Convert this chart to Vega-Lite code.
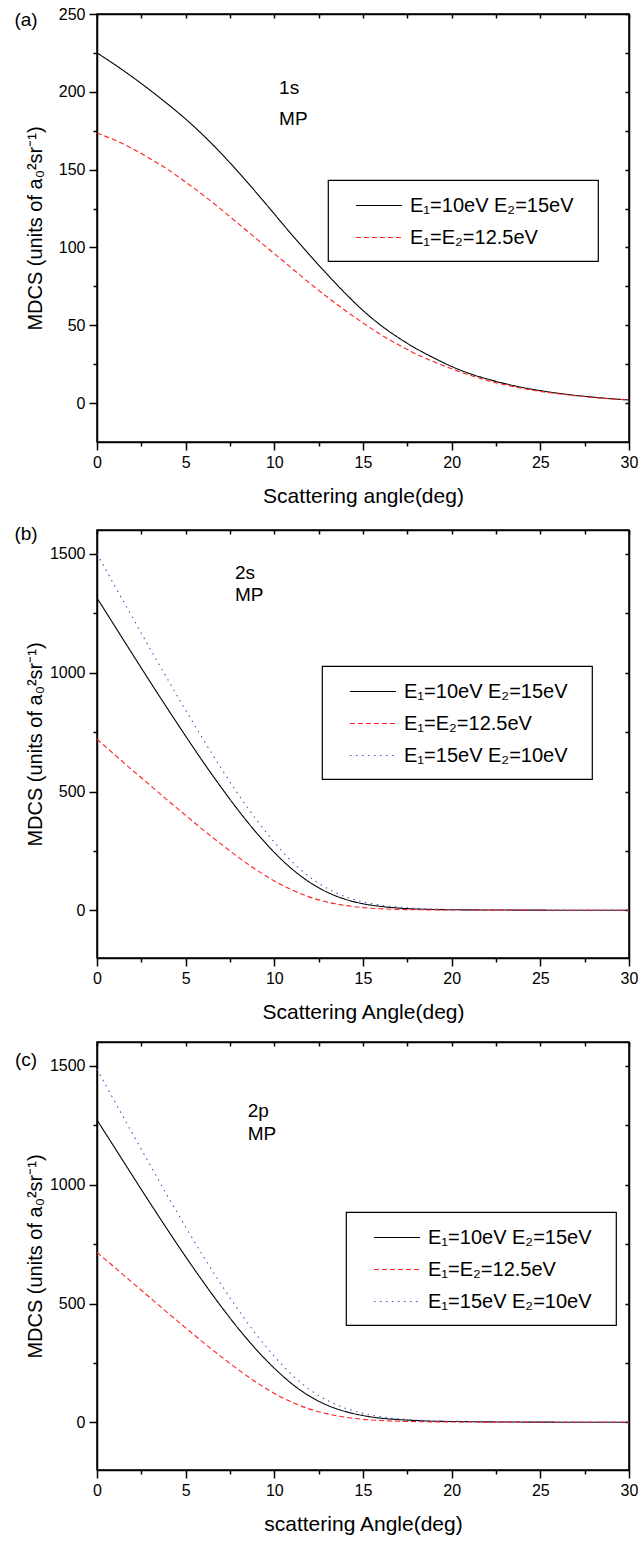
{
"$schema": "https://vega.github.io/schema/vega-lite/v6.json",
"padding": {"top": 5, "left": 13, "right": 5, "bottom": 0},
"spacing": 17,
"datasets": {
"a": [
{"angle":0,"mdcs":225,"series":"E₁=10eV E₂=15eV"},{"angle":1,"mdcs":217.5,"series":"E₁=10eV E₂=15eV"},{"angle":2,"mdcs":209.5,"series":"E₁=10eV E₂=15eV"},{"angle":3,"mdcs":201,"series":"E₁=10eV E₂=15eV"},{"angle":4,"mdcs":192,"series":"E₁=10eV E₂=15eV"},{"angle":5,"mdcs":182.5,"series":"E₁=10eV E₂=15eV"},{"angle":6,"mdcs":172,"series":"E₁=10eV E₂=15eV"},{"angle":7,"mdcs":160.5,"series":"E₁=10eV E₂=15eV"},{"angle":8,"mdcs":148,"series":"E₁=10eV E₂=15eV"},{"angle":9,"mdcs":135,"series":"E₁=10eV E₂=15eV"},{"angle":10,"mdcs":121.5,"series":"E₁=10eV E₂=15eV"},{"angle":11,"mdcs":108,"series":"E₁=10eV E₂=15eV"},{"angle":12,"mdcs":95,"series":"E₁=10eV E₂=15eV"},{"angle":13,"mdcs":82.5,"series":"E₁=10eV E₂=15eV"},{"angle":14,"mdcs":70.5,"series":"E₁=10eV E₂=15eV"},{"angle":15,"mdcs":59.5,"series":"E₁=10eV E₂=15eV"},{"angle":16,"mdcs":50,"series":"E₁=10eV E₂=15eV"},{"angle":17,"mdcs":42,"series":"E₁=10eV E₂=15eV"},{"angle":18,"mdcs":35,"series":"E₁=10eV E₂=15eV"},{"angle":19,"mdcs":29,"series":"E₁=10eV E₂=15eV"},{"angle":20,"mdcs":23.5,"series":"E₁=10eV E₂=15eV"},{"angle":21,"mdcs":19,"series":"E₁=10eV E₂=15eV"},{"angle":22,"mdcs":15.5,"series":"E₁=10eV E₂=15eV"},{"angle":23,"mdcs":12.5,"series":"E₁=10eV E₂=15eV"},{"angle":24,"mdcs":10,"series":"E₁=10eV E₂=15eV"},{"angle":25,"mdcs":8,"series":"E₁=10eV E₂=15eV"},{"angle":26,"mdcs":6.3,"series":"E₁=10eV E₂=15eV"},{"angle":27,"mdcs":4.9,"series":"E₁=10eV E₂=15eV"},{"angle":28,"mdcs":3.8,"series":"E₁=10eV E₂=15eV"},{"angle":29,"mdcs":2.8,"series":"E₁=10eV E₂=15eV"},{"angle":30,"mdcs":2,"series":"E₁=10eV E₂=15eV"},
{"angle":0,"mdcs":173.5,"series":"E₁=E₂=12.5eV"},{"angle":1,"mdcs":169,"series":"E₁=E₂=12.5eV"},{"angle":2,"mdcs":163.5,"series":"E₁=E₂=12.5eV"},{"angle":3,"mdcs":157,"series":"E₁=E₂=12.5eV"},{"angle":4,"mdcs":150,"series":"E₁=E₂=12.5eV"},{"angle":5,"mdcs":142,"series":"E₁=E₂=12.5eV"},{"angle":6,"mdcs":133.5,"series":"E₁=E₂=12.5eV"},{"angle":7,"mdcs":124.5,"series":"E₁=E₂=12.5eV"},{"angle":8,"mdcs":115,"series":"E₁=E₂=12.5eV"},{"angle":9,"mdcs":105.5,"series":"E₁=E₂=12.5eV"},{"angle":10,"mdcs":96,"series":"E₁=E₂=12.5eV"},{"angle":11,"mdcs":86.5,"series":"E₁=E₂=12.5eV"},{"angle":12,"mdcs":77,"series":"E₁=E₂=12.5eV"},{"angle":13,"mdcs":68,"series":"E₁=E₂=12.5eV"},{"angle":14,"mdcs":59.5,"series":"E₁=E₂=12.5eV"},{"angle":15,"mdcs":51.5,"series":"E₁=E₂=12.5eV"},{"angle":16,"mdcs":44,"series":"E₁=E₂=12.5eV"},{"angle":17,"mdcs":37.5,"series":"E₁=E₂=12.5eV"},{"angle":18,"mdcs":31.5,"series":"E₁=E₂=12.5eV"},{"angle":19,"mdcs":26.5,"series":"E₁=E₂=12.5eV"},{"angle":20,"mdcs":22,"series":"E₁=E₂=12.5eV"},{"angle":21,"mdcs":18,"series":"E₁=E₂=12.5eV"},{"angle":22,"mdcs":14.5,"series":"E₁=E₂=12.5eV"},{"angle":23,"mdcs":11.8,"series":"E₁=E₂=12.5eV"},{"angle":24,"mdcs":9.5,"series":"E₁=E₂=12.5eV"},{"angle":25,"mdcs":7.5,"series":"E₁=E₂=12.5eV"},{"angle":26,"mdcs":6,"series":"E₁=E₂=12.5eV"},{"angle":27,"mdcs":4.7,"series":"E₁=E₂=12.5eV"},{"angle":28,"mdcs":3.6,"series":"E₁=E₂=12.5eV"},{"angle":29,"mdcs":2.7,"series":"E₁=E₂=12.5eV"},{"angle":30,"mdcs":2,"series":"E₁=E₂=12.5eV"}
],
"b": [
{"angle":0,"mdcs":1314,"series":"E₁=10eV E₂=15eV"},{"angle":1,"mdcs":1196,"series":"E₁=10eV E₂=15eV"},{"angle":2,"mdcs":1078,"series":"E₁=10eV E₂=15eV"},{"angle":3,"mdcs":961,"series":"E₁=10eV E₂=15eV"},{"angle":4,"mdcs":846,"series":"E₁=10eV E₂=15eV"},{"angle":5,"mdcs":733,"series":"E₁=10eV E₂=15eV"},{"angle":6,"mdcs":623,"series":"E₁=10eV E₂=15eV"},{"angle":7,"mdcs":518,"series":"E₁=10eV E₂=15eV"},{"angle":8,"mdcs":418,"series":"E₁=10eV E₂=15eV"},{"angle":9,"mdcs":326,"series":"E₁=10eV E₂=15eV"},{"angle":10,"mdcs":244,"series":"E₁=10eV E₂=15eV"},{"angle":11,"mdcs":174,"series":"E₁=10eV E₂=15eV"},{"angle":12,"mdcs":118,"series":"E₁=10eV E₂=15eV"},{"angle":13,"mdcs":76,"series":"E₁=10eV E₂=15eV"},{"angle":14,"mdcs":47,"series":"E₁=10eV E₂=15eV"},{"angle":15,"mdcs":28,"series":"E₁=10eV E₂=15eV"},{"angle":16,"mdcs":17,"series":"E₁=10eV E₂=15eV"},{"angle":17,"mdcs":10,"series":"E₁=10eV E₂=15eV"},{"angle":18,"mdcs":6,"series":"E₁=10eV E₂=15eV"},{"angle":19,"mdcs":4,"series":"E₁=10eV E₂=15eV"},{"angle":20,"mdcs":3,"series":"E₁=10eV E₂=15eV"},{"angle":22,"mdcs":2,"series":"E₁=10eV E₂=15eV"},{"angle":25,"mdcs":1.2,"series":"E₁=10eV E₂=15eV"},{"angle":30,"mdcs":0.6,"series":"E₁=10eV E₂=15eV"},
{"angle":0,"mdcs":720,"series":"E₁=E₂=12.5eV"},{"angle":1,"mdcs":655,"series":"E₁=E₂=12.5eV"},{"angle":2,"mdcs":590,"series":"E₁=E₂=12.5eV"},{"angle":3,"mdcs":526,"series":"E₁=E₂=12.5eV"},{"angle":4,"mdcs":462,"series":"E₁=E₂=12.5eV"},{"angle":5,"mdcs":400,"series":"E₁=E₂=12.5eV"},{"angle":6,"mdcs":338,"series":"E₁=E₂=12.5eV"},{"angle":7,"mdcs":279,"series":"E₁=E₂=12.5eV"},{"angle":8,"mdcs":222,"series":"E₁=E₂=12.5eV"},{"angle":9,"mdcs":170,"series":"E₁=E₂=12.5eV"},{"angle":10,"mdcs":124,"series":"E₁=E₂=12.5eV"},{"angle":11,"mdcs":86,"series":"E₁=E₂=12.5eV"},{"angle":12,"mdcs":56,"series":"E₁=E₂=12.5eV"},{"angle":13,"mdcs":35,"series":"E₁=E₂=12.5eV"},{"angle":14,"mdcs":21,"series":"E₁=E₂=12.5eV"},{"angle":15,"mdcs":12,"series":"E₁=E₂=12.5eV"},{"angle":16,"mdcs":7,"series":"E₁=E₂=12.5eV"},{"angle":17,"mdcs":4.5,"series":"E₁=E₂=12.5eV"},{"angle":18,"mdcs":3,"series":"E₁=E₂=12.5eV"},{"angle":20,"mdcs":2,"series":"E₁=E₂=12.5eV"},{"angle":25,"mdcs":1,"series":"E₁=E₂=12.5eV"},{"angle":30,"mdcs":0.5,"series":"E₁=E₂=12.5eV"},
{"angle":0,"mdcs":1500,"series":"E₁=15eV E₂=10eV"},{"angle":1,"mdcs":1365,"series":"E₁=15eV E₂=10eV"},{"angle":2,"mdcs":1232,"series":"E₁=15eV E₂=10eV"},{"angle":3,"mdcs":1100,"series":"E₁=15eV E₂=10eV"},{"angle":4,"mdcs":970,"series":"E₁=15eV E₂=10eV"},{"angle":5,"mdcs":842,"series":"E₁=15eV E₂=10eV"},{"angle":6,"mdcs":718,"series":"E₁=15eV E₂=10eV"},{"angle":7,"mdcs":598,"series":"E₁=15eV E₂=10eV"},{"angle":8,"mdcs":485,"series":"E₁=15eV E₂=10eV"},{"angle":9,"mdcs":380,"series":"E₁=15eV E₂=10eV"},{"angle":10,"mdcs":287,"series":"E₁=15eV E₂=10eV"},{"angle":11,"mdcs":205,"series":"E₁=15eV E₂=10eV"},{"angle":12,"mdcs":140,"series":"E₁=15eV E₂=10eV"},{"angle":13,"mdcs":92,"series":"E₁=15eV E₂=10eV"},{"angle":14,"mdcs":58,"series":"E₁=15eV E₂=10eV"},{"angle":15,"mdcs":36,"series":"E₁=15eV E₂=10eV"},{"angle":16,"mdcs":22,"series":"E₁=15eV E₂=10eV"},{"angle":17,"mdcs":14,"series":"E₁=15eV E₂=10eV"},{"angle":18,"mdcs":9,"series":"E₁=15eV E₂=10eV"},{"angle":19,"mdcs":6,"series":"E₁=15eV E₂=10eV"},{"angle":20,"mdcs":4,"series":"E₁=15eV E₂=10eV"},{"angle":22,"mdcs":2.5,"series":"E₁=15eV E₂=10eV"},{"angle":25,"mdcs":1.4,"series":"E₁=15eV E₂=10eV"},{"angle":30,"mdcs":0.7,"series":"E₁=15eV E₂=10eV"}
],
"c": [
{"angle":0,"mdcs":1272,"series":"E₁=10eV E₂=15eV"},{"angle":1,"mdcs":1155,"series":"E₁=10eV E₂=15eV"},{"angle":2,"mdcs":1038,"series":"E₁=10eV E₂=15eV"},{"angle":3,"mdcs":922,"series":"E₁=10eV E₂=15eV"},{"angle":4,"mdcs":808,"series":"E₁=10eV E₂=15eV"},{"angle":5,"mdcs":697,"series":"E₁=10eV E₂=15eV"},{"angle":6,"mdcs":590,"series":"E₁=10eV E₂=15eV"},{"angle":7,"mdcs":488,"series":"E₁=10eV E₂=15eV"},{"angle":8,"mdcs":392,"series":"E₁=10eV E₂=15eV"},{"angle":9,"mdcs":305,"series":"E₁=10eV E₂=15eV"},{"angle":10,"mdcs":228,"series":"E₁=10eV E₂=15eV"},{"angle":11,"mdcs":162,"series":"E₁=10eV E₂=15eV"},{"angle":12,"mdcs":110,"series":"E₁=10eV E₂=15eV"},{"angle":13,"mdcs":72,"series":"E₁=10eV E₂=15eV"},{"angle":14,"mdcs":46,"series":"E₁=10eV E₂=15eV"},{"angle":15,"mdcs":29,"series":"E₁=10eV E₂=15eV"},{"angle":16,"mdcs":18,"series":"E₁=10eV E₂=15eV"},{"angle":17,"mdcs":12,"series":"E₁=10eV E₂=15eV"},{"angle":18,"mdcs":8,"series":"E₁=10eV E₂=15eV"},{"angle":19,"mdcs":5,"series":"E₁=10eV E₂=15eV"},{"angle":20,"mdcs":4,"series":"E₁=10eV E₂=15eV"},{"angle":22,"mdcs":2.4,"series":"E₁=10eV E₂=15eV"},{"angle":25,"mdcs":1.3,"series":"E₁=10eV E₂=15eV"},{"angle":30,"mdcs":0.7,"series":"E₁=10eV E₂=15eV"},
{"angle":0,"mdcs":715,"series":"E₁=E₂=12.5eV"},{"angle":1,"mdcs":652,"series":"E₁=E₂=12.5eV"},{"angle":2,"mdcs":588,"series":"E₁=E₂=12.5eV"},{"angle":3,"mdcs":524,"series":"E₁=E₂=12.5eV"},{"angle":4,"mdcs":460,"series":"E₁=E₂=12.5eV"},{"angle":5,"mdcs":398,"series":"E₁=E₂=12.5eV"},{"angle":6,"mdcs":336,"series":"E₁=E₂=12.5eV"},{"angle":7,"mdcs":277,"series":"E₁=E₂=12.5eV"},{"angle":8,"mdcs":220,"series":"E₁=E₂=12.5eV"},{"angle":9,"mdcs":168,"series":"E₁=E₂=12.5eV"},{"angle":10,"mdcs":122,"series":"E₁=E₂=12.5eV"},{"angle":11,"mdcs":85,"series":"E₁=E₂=12.5eV"},{"angle":12,"mdcs":56,"series":"E₁=E₂=12.5eV"},{"angle":13,"mdcs":36,"series":"E₁=E₂=12.5eV"},{"angle":14,"mdcs":22,"series":"E₁=E₂=12.5eV"},{"angle":15,"mdcs":13,"series":"E₁=E₂=12.5eV"},{"angle":16,"mdcs":8,"series":"E₁=E₂=12.5eV"},{"angle":17,"mdcs":5,"series":"E₁=E₂=12.5eV"},{"angle":18,"mdcs":3.3,"series":"E₁=E₂=12.5eV"},{"angle":20,"mdcs":2,"series":"E₁=E₂=12.5eV"},{"angle":25,"mdcs":1,"series":"E₁=E₂=12.5eV"},{"angle":30,"mdcs":0.5,"series":"E₁=E₂=12.5eV"},
{"angle":0,"mdcs":1485,"series":"E₁=15eV E₂=10eV"},{"angle":1,"mdcs":1350,"series":"E₁=15eV E₂=10eV"},{"angle":2,"mdcs":1215,"series":"E₁=15eV E₂=10eV"},{"angle":3,"mdcs":1082,"series":"E₁=15eV E₂=10eV"},{"angle":4,"mdcs":950,"series":"E₁=15eV E₂=10eV"},{"angle":5,"mdcs":822,"series":"E₁=15eV E₂=10eV"},{"angle":6,"mdcs":698,"series":"E₁=15eV E₂=10eV"},{"angle":7,"mdcs":580,"series":"E₁=15eV E₂=10eV"},{"angle":8,"mdcs":470,"series":"E₁=15eV E₂=10eV"},{"angle":9,"mdcs":368,"series":"E₁=15eV E₂=10eV"},{"angle":10,"mdcs":278,"series":"E₁=15eV E₂=10eV"},{"angle":11,"mdcs":200,"series":"E₁=15eV E₂=10eV"},{"angle":12,"mdcs":138,"series":"E₁=15eV E₂=10eV"},{"angle":13,"mdcs":92,"series":"E₁=15eV E₂=10eV"},{"angle":14,"mdcs":60,"series":"E₁=15eV E₂=10eV"},{"angle":15,"mdcs":38,"series":"E₁=15eV E₂=10eV"},{"angle":16,"mdcs":24,"series":"E₁=15eV E₂=10eV"},{"angle":17,"mdcs":15,"series":"E₁=15eV E₂=10eV"},{"angle":18,"mdcs":10,"series":"E₁=15eV E₂=10eV"},{"angle":19,"mdcs":7,"series":"E₁=15eV E₂=10eV"},{"angle":20,"mdcs":5,"series":"E₁=15eV E₂=10eV"},{"angle":22,"mdcs":3,"series":"E₁=15eV E₂=10eV"},{"angle":25,"mdcs":1.7,"series":"E₁=15eV E₂=10eV"},{"angle":30,"mdcs":0.8,"series":"E₁=15eV E₂=10eV"}
]
},
"vconcat": [
{
"width": 532, "height": 428,
"layer": [
{"data": {"name": "a"},
 "mark": {"type": "line", "strokeWidth": 1.1, "interpolate": "monotone"},
 "encoding": {
  "x": {"field": "angle", "type": "quantitative", "scale": {"domain": [0, 30], "nice": false, "zero": false},
        "axis": {"orient": "bottom", "title": "Scattering angle(deg)", "values": [0,2.5,5,7.5,10,12.5,15,17.5,20,22.5,25,27.5,30],
                 "labelExpr": "datum.value % 5 === 0 ? format(datum.value, 'd') : ''", "labelFlush": false, "labelFontSize": 16,
                 "tickSize": {"condition": {"test": "datum.value % 5 === 0", "value": 8}, "value": 4},
                 "labelPadding": 4, "titleY": 54, "titleBaseline": "middle"}},
  "y": {"field": "mdcs", "type": "quantitative", "scale": {"domain": [-25, 250], "nice": false, "zero": false},
        "axis": {"orient": "left", "title": "MDCS (units of a₀²sr⁻¹)", "values": [0,25,50,75,100,125,150,175,200,225,250],
                 "labelExpr": "datum.value % 50 === 0 ? format(datum.value, 'd') : ''", "labelFlush": false, "labelFontSize": 16,
                 "tickSize": {"condition": {"test": "datum.value % 50 === 0", "value": 8}, "value": 4},
                 "labelPadding": 4, "titleX": -56, "titleBaseline": "alphabetic", "titleFontSize": 20}},
  "color": {"field": "series", "type": "nominal", "scale": {"domain": ["E₁=10eV E₂=15eV", "E₁=E₂=12.5eV"], "range": ["#000000", "#ff2020"]},
            "legend": {"orient": "none", "legendX": 231, "legendY": 166, "symbolType": "M-2,0L2,0", "symbolSize": 530, "symbolOffset": 25.5, "labelOffset": 18.5, "padding": 13, "rowPadding": 9, "title": " ", "titleOrient": "right", "titlePadding": 11,
                       "encode": {"symbols": {"update": {"stroke": {"signal": "datum.value === 'E₁=E₂=12.5eV' ? '#ff2020' : (datum.value === 'E₁=15eV E₂=10eV' ? '#3a5cc8' : '#000000')"}, "fill": {"value": "transparent"}}}}}},
  "strokeDash": {"field": "series", "type": "nominal", "scale": {"domain": ["E₁=10eV E₂=15eV", "E₁=E₂=12.5eV"], "range": [[1, 0], [5, 3]]},
            "legend": {"orient": "none", "legendX": 231, "legendY": 166, "symbolType": "M-2,0L2,0", "symbolSize": 530, "symbolOffset": 25.5, "labelOffset": 18.5, "padding": 13, "rowPadding": 9, "title": " ", "titleOrient": "right", "titlePadding": 11,
                       "encode": {"symbols": {"update": {"stroke": {"signal": "datum.value === 'E₁=E₂=12.5eV' ? '#ff2020' : (datum.value === 'E₁=15eV E₂=10eV' ? '#3a5cc8' : '#000000')"}, "fill": {"value": "transparent"}}}}}}
 }},
{"data": {"values": [{"angle": 10.27, "mdcs": 202.4, "label": "1s"}, {"angle": 10.27, "mdcs": 182.5, "label": "MP"}]},
 "mark": {"type": "text", "align": "left", "baseline": "middle", "fontSize": 19},
 "encoding": {
  "x": {"field": "angle", "type": "quantitative", "axis": {"orient": "top", "title": null, "labels": false, "values": [0,2.5,5,7.5,10,12.5,15,17.5,20,22.5,25,27.5,30], "tickSize": -4}},
  "y": {"field": "mdcs", "type": "quantitative", "axis": {"orient": "right", "title": null, "labels": false, "values": [0,25,50,75,100,125,150,175,200,225,250], "tickSize": -4}},
  "text": {"field": "label"}
 }},
{"data": {"values": [{"angle": -4.0, "mdcs": 246, "label": "(a)"}]},
 "mark": {"type": "text", "align": "center", "baseline": "middle", "fontSize": 19},
 "encoding": {
  "x": {"field": "angle", "type": "quantitative", "axis": null},
  "y": {"field": "mdcs", "type": "quantitative", "axis": null},
  "text": {"field": "label"}
 }}
],
"resolve": {"axis": {"x": "independent", "y": "independent"}}
},
{
"width": 532, "height": 428,
"layer": [
{"data": {"name": "b"},
 "mark": {"type": "line", "strokeWidth": 1.1, "interpolate": "monotone"},
 "encoding": {
  "x": {"field": "angle", "type": "quantitative", "scale": {"domain": [0, 30], "nice": false, "zero": false},
        "axis": {"orient": "bottom", "title": "Scattering Angle(deg)", "values": [0,2.5,5,7.5,10,12.5,15,17.5,20,22.5,25,27.5,30],
                 "labelExpr": "datum.value % 5 === 0 ? format(datum.value, 'd') : ''", "labelFlush": false, "labelFontSize": 16,
                 "tickSize": {"condition": {"test": "datum.value % 5 === 0", "value": 8}, "value": 4},
                 "labelPadding": 4, "titleY": 54, "titleBaseline": "middle"}},
  "y": {"field": "mdcs", "type": "quantitative", "scale": {"domain": [-200, 1600], "nice": false, "zero": false},
        "axis": {"orient": "left", "title": "MDCS (units of a₀²sr⁻¹)", "values": [0,250,500,750,1000,1250,1500],
                 "labelExpr": "datum.value % 500 === 0 ? format(datum.value, 'd') : ''", "labelFlush": false, "labelFontSize": 16,
                 "tickSize": {"condition": {"test": "datum.value % 500 === 0", "value": 8}, "value": 4},
                 "labelPadding": 4, "titleX": -56, "titleBaseline": "alphabetic", "titleFontSize": 20}},
  "color": {"field": "series", "type": "nominal", "scale": {"domain": ["E₁=10eV E₂=15eV", "E₁=E₂=12.5eV", "E₁=15eV E₂=10eV"], "range": ["#000000", "#ff2020", "#3a5cc8"]},
            "legend": {"orient": "none", "legendX": 225, "legendY": 136, "symbolType": "M-2,0L2,0", "symbolSize": 530, "symbolOffset": 25.5, "labelOffset": 18.5, "padding": 13, "rowPadding": 9, "title": " ", "titleOrient": "right", "titlePadding": 11,
                       "encode": {"symbols": {"update": {"stroke": {"signal": "datum.value === 'E₁=E₂=12.5eV' ? '#ff2020' : (datum.value === 'E₁=15eV E₂=10eV' ? '#3a5cc8' : '#000000')"}, "fill": {"value": "transparent"}}}}}},
  "strokeDash": {"field": "series", "type": "nominal", "scale": {"domain": ["E₁=10eV E₂=15eV", "E₁=E₂=12.5eV", "E₁=15eV E₂=10eV"], "range": [[1, 0], [5, 3], [1.5, 4.5]]},
            "legend": {"orient": "none", "legendX": 225, "legendY": 136, "symbolType": "M-2,0L2,0", "symbolSize": 530, "symbolOffset": 25.5, "labelOffset": 18.5, "padding": 13, "rowPadding": 9, "title": " ", "titleOrient": "right", "titlePadding": 11,
                       "encode": {"symbols": {"update": {"stroke": {"signal": "datum.value === 'E₁=E₂=12.5eV' ? '#ff2020' : (datum.value === 'E₁=15eV E₂=10eV' ? '#3a5cc8' : '#000000')"}, "fill": {"value": "transparent"}}}}}}
 }},
{"data": {"values": [{"angle": 7.78, "mdcs": 1420, "label": "2s"}, {"angle": 7.78, "mdcs": 1328, "label": "MP"}]},
 "mark": {"type": "text", "align": "left", "baseline": "middle", "fontSize": 19},
 "encoding": {
  "x": {"field": "angle", "type": "quantitative", "axis": {"orient": "top", "title": null, "labels": false, "values": [0,2.5,5,7.5,10,12.5,15,17.5,20,22.5,25,27.5,30], "tickSize": -4}},
  "y": {"field": "mdcs", "type": "quantitative", "axis": {"orient": "right", "title": null, "labels": false, "values": [0,250,500,750,1000,1250,1500], "tickSize": -4}},
  "text": {"field": "label"}
 }},
{"data": {"values": [{"angle": -4.0, "mdcs": 1583, "label": "(b)"}]},
 "mark": {"type": "text", "align": "center", "baseline": "middle", "fontSize": 19},
 "encoding": {
  "x": {"field": "angle", "type": "quantitative", "axis": null},
  "y": {"field": "mdcs", "type": "quantitative", "axis": null},
  "text": {"field": "label"}
 }}
],
"resolve": {"axis": {"x": "independent", "y": "independent"}}
},
{
"width": 532, "height": 428,
"layer": [
{"data": {"name": "c"},
 "mark": {"type": "line", "strokeWidth": 1.1, "interpolate": "monotone"},
 "encoding": {
  "x": {"field": "angle", "type": "quantitative", "scale": {"domain": [0, 30], "nice": false, "zero": false},
        "axis": {"orient": "bottom", "title": "scattering Angle(deg)", "values": [0,2.5,5,7.5,10,12.5,15,17.5,20,22.5,25,27.5,30],
                 "labelExpr": "datum.value % 5 === 0 ? format(datum.value, 'd') : ''", "labelFlush": false, "labelFontSize": 16,
                 "tickSize": {"condition": {"test": "datum.value % 5 === 0", "value": 8}, "value": 4},
                 "labelPadding": 4, "titleY": 54, "titleBaseline": "middle"}},
  "y": {"field": "mdcs", "type": "quantitative", "scale": {"domain": [-200, 1600], "nice": false, "zero": false},
        "axis": {"orient": "left", "title": "MDCS (units of a₀²sr⁻¹)", "values": [0,250,500,750,1000,1250,1500],
                 "labelExpr": "datum.value % 500 === 0 ? format(datum.value, 'd') : ''", "labelFlush": false, "labelFontSize": 16,
                 "tickSize": {"condition": {"test": "datum.value % 500 === 0", "value": 8}, "value": 4},
                 "labelPadding": 4, "titleX": -56, "titleBaseline": "alphabetic", "titleFontSize": 20}},
  "color": {"field": "series", "type": "nominal", "scale": {"domain": ["E₁=10eV E₂=15eV", "E₁=E₂=12.5eV", "E₁=15eV E₂=10eV"], "range": ["#000000", "#ff2020", "#3a5cc8"]},
            "legend": {"orient": "none", "legendX": 249, "legendY": 170, "symbolType": "M-2,0L2,0", "symbolSize": 530, "symbolOffset": 25.5, "labelOffset": 18.5, "padding": 13, "rowPadding": 9, "title": " ", "titleOrient": "right", "titlePadding": 11,
                       "encode": {"symbols": {"update": {"stroke": {"signal": "datum.value === 'E₁=E₂=12.5eV' ? '#ff2020' : (datum.value === 'E₁=15eV E₂=10eV' ? '#3a5cc8' : '#000000')"}, "fill": {"value": "transparent"}}}}}},
  "strokeDash": {"field": "series", "type": "nominal", "scale": {"domain": ["E₁=10eV E₂=15eV", "E₁=E₂=12.5eV", "E₁=15eV E₂=10eV"], "range": [[1, 0], [5, 3], [1.5, 4.5]]},
            "legend": {"orient": "none", "legendX": 249, "legendY": 170, "symbolType": "M-2,0L2,0", "symbolSize": 530, "symbolOffset": 25.5, "labelOffset": 18.5, "padding": 13, "rowPadding": 9, "title": " ", "titleOrient": "right", "titlePadding": 11,
                       "encode": {"symbols": {"update": {"stroke": {"signal": "datum.value === 'E₁=E₂=12.5eV' ? '#ff2020' : (datum.value === 'E₁=15eV E₂=10eV' ? '#3a5cc8' : '#000000')"}, "fill": {"value": "transparent"}}}}}}
 }},
{"data": {"values": [{"angle": 8.5, "mdcs": 1310, "label": "2p"}, {"angle": 8.5, "mdcs": 1214, "label": "MP"}]},
 "mark": {"type": "text", "align": "left", "baseline": "middle", "fontSize": 19},
 "encoding": {
  "x": {"field": "angle", "type": "quantitative", "axis": {"orient": "top", "title": null, "labels": false, "values": [0,2.5,5,7.5,10,12.5,15,17.5,20,22.5,25,27.5,30], "tickSize": -4}},
  "y": {"field": "mdcs", "type": "quantitative", "axis": {"orient": "right", "title": null, "labels": false, "values": [0,250,500,750,1000,1250,1500], "tickSize": -4}},
  "text": {"field": "label"}
 }},
{"data": {"values": [{"angle": -4.0, "mdcs": 1524, "label": "(c)"}]},
 "mark": {"type": "text", "align": "center", "baseline": "middle", "fontSize": 19},
 "encoding": {
  "x": {"field": "angle", "type": "quantitative", "axis": null},
  "y": {"field": "mdcs", "type": "quantitative", "axis": null},
  "text": {"field": "label"}
 }}
],
"resolve": {"axis": {"x": "independent", "y": "independent"}}
}
],
"resolve": {"scale": {"color": "independent", "strokeDash": "independent"}, "legend": {"color": "independent", "strokeDash": "independent"}},
"config": {
 "font": "Liberation Sans",
 "view": {"stroke": "#000000", "strokeWidth": 1.5},
 "axis": {"grid": false, "domainColor": "#000000", "domainWidth": 1.5, "tickColor": "#000000", "tickWidth": 1.5,
          "labelColor": "#000000", "labelFont": "Liberation Sans", "labelFontSize": 16,
          "titleColor": "#000000", "titleFont": "Liberation Sans", "titleFontSize": 21, "titleFontWeight": "normal"},
 "legend": {"strokeColor": "#000000", "strokeWidth": 1.2, "labelFont": "Liberation Sans", "labelFontSize": 20, "labelColor": "#000000",
            "symbolStrokeWidth": 1.2, "labelLimit": 400},
 "text": {"font": "Liberation Sans", "color": "#000000"}
}
}
